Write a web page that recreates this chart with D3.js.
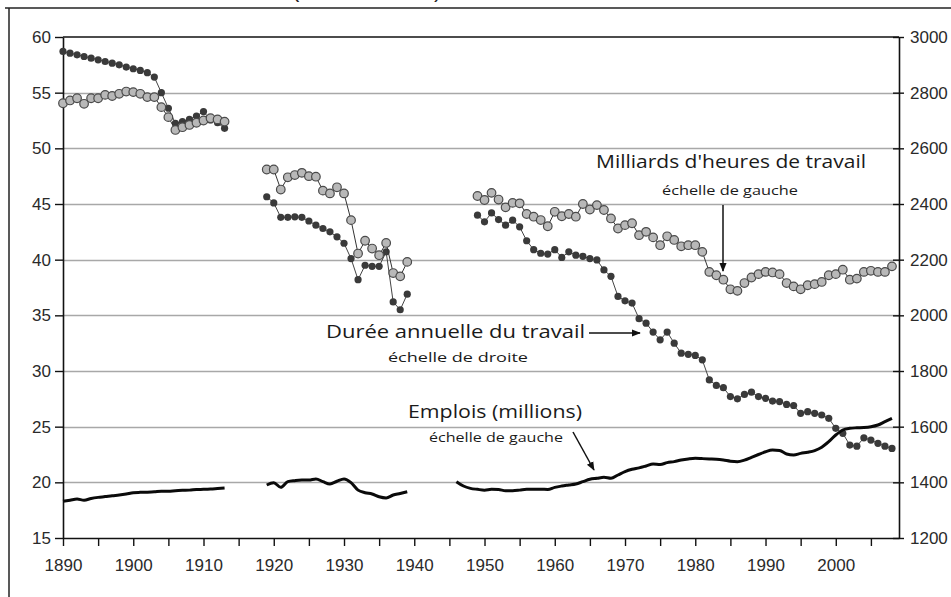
<!DOCTYPE html>
<html>
<head>
<meta charset="utf-8">
<script src="https://cdn.jsdelivr.net/npm/d3@7/dist/d3.min.js"></script>
<style>
  html, body { margin: 0; padding: 0; background: #fff; }
  svg { display: block; }
</style>
</head>
<body>
<svg id="chart" width="951" height="597"></svg>
<script>
// periods (years), values
var yearsA = d3.range(1890, 1914);
var yearsB = d3.range(1919, 1940);
var yearsEmpC = d3.range(1946, 2009);
var yearsC = d3.range(1949, 2009);

// Milliards d'heures de travail (left scale)
var heuresA = [54.05, 54.3, 54.5, 54.0, 54.5, 54.5, 54.8, 54.7, 54.9, 55.1, 55.05, 54.9, 54.6, 54.6,
  53.7, 52.8, 51.65, 51.9, 52.1, 52.3, 52.5, 52.7, 52.6, 52.4];
var heuresB = [48.1, 48.1, 46.3, 47.4, 47.6, 47.8, 47.5, 47.45, 46.2, 45.95, 46.5, 45.95, 43.55,
  40.55, 41.7, 41.0, 40.4, 41.5, 38.8, 38.5, 39.8];
var heuresC = [45.72, 45.36, 46.0, 45.4, 44.7, 45.1, 45.06, 44.1, 43.86, 43.56, 43.0, 44.3, 43.9,
  44.1, 43.86, 45.0, 44.5, 44.9, 44.46, 43.7, 42.8, 43.1, 43.27, 42.2, 42.5, 42.0, 41.3, 42.1,
  41.77, 41.2, 41.3, 41.3, 40.7, 38.9, 38.6, 38.2, 37.34, 37.2, 37.9, 38.4, 38.7, 38.9, 38.85,
  38.7, 37.9, 37.6, 37.34, 37.7, 37.8, 38.0, 38.6, 38.7, 39.1, 38.2, 38.3, 38.9, 39.0, 38.9,
  38.9, 39.4];

// Duree annuelle du travail, heures (right scale)
var dureeA = [2948, 2942, 2936, 2930, 2924, 2918, 2912, 2906, 2900, 2892, 2886, 2880, 2872, 2856,
  2800, 2744, 2690, 2696, 2704, 2716, 2732, 2702, 2692, 2672];
var dureeB = [2426, 2404, 2352, 2352, 2354, 2352, 2339, 2324, 2312, 2300, 2282, 2259, 2204, 2128,
  2180, 2176, 2176, 2228, 2048, 2020, 2076];
var dureeC = [2360, 2336, 2368, 2344, 2324, 2342, 2318, 2268, 2236, 2223, 2220, 2236, 2208, 2228,
  2216, 2212, 2204, 2199, 2163, 2140, 2068, 2052, 2044, 1988, 1972, 1940, 1912, 1940, 1900, 1864,
  1860, 1856, 1840, 1768, 1748, 1740, 1708, 1700, 1716, 1724, 1708, 1702, 1692, 1690, 1680, 1676,
  1648, 1654, 1648, 1642, 1630, 1594, 1576, 1534, 1530, 1560, 1552, 1540, 1530, 1522];

// Emplois, millions (left scale)
var emploiA = [18.3, 18.4, 18.5, 18.4, 18.55, 18.65, 18.72, 18.8, 18.86, 18.95, 19.07, 19.1, 19.12,
  19.15, 19.2, 19.2, 19.25, 19.28, 19.3, 19.35, 19.37, 19.4, 19.45, 19.5];
var emploiB = [19.76, 19.97, 19.55, 20.06, 20.15, 20.2, 20.2, 20.3, 20.06, 19.85, 20.1, 20.3, 19.97,
  19.3, 19.07, 18.95, 18.7, 18.6, 18.86, 19.0, 19.16];
var emploiC = [20.06, 19.67, 19.46, 19.37, 19.3, 19.37, 19.35, 19.25, 19.25, 19.3, 19.37, 19.37,
  19.38, 19.36, 19.55, 19.67, 19.76, 19.85, 20.06, 20.27, 20.36, 20.45, 20.36, 20.66, 20.96, 21.17,
  21.3, 21.47, 21.65, 21.6, 21.77, 21.86, 22.0, 22.1, 22.16, 22.13, 22.1, 22.07, 22.0, 21.9, 21.86,
  22.0, 22.25, 22.5, 22.75, 22.9, 22.85, 22.55, 22.46, 22.6, 22.7, 22.85, 23.15, 23.65, 24.25,
  24.7, 24.85, 24.9, 24.93, 25.0, 25.15, 25.45, 25.75];

var leftTicks = [15, 20, 25, 30, 35, 40, 45, 50, 55, 60];
var rightTicks = [1200, 1400, 1600, 1800, 2000, 2200, 2400, 2600, 2800, 3000];
var xTicks = d3.range(1890, 2006, 5);

//------------------------------------------------------------
var svg = d3.select('#chart');
var plot = { left: 63, right: 899, top: 37, bottom: 538 };

var x = d3.scaleLinear().domain([1890, 2009]).range([plot.left, plot.right]);
var yL = d3.scaleLinear().domain([15, 60]).range([plot.bottom, plot.top]);
var yR = d3.scaleLinear().domain([1200, 3000]).range([plot.bottom, plot.top]);

function zip(years, vals) {
  return years.map(function(y, i) { return { year: y, v: vals[i] }; });
}

// outer frame
svg.append('line').attr('x1', 5).attr('x2', 951).attr('y1', 8).attr('y2', 8)
  .attr('stroke', '#222').attr('stroke-width', 1.5);
svg.append('line').attr('x1', 9).attr('x2', 9).attr('y1', 8).attr('y2', 597)
  .attr('stroke', '#222').attr('stroke-width', 1.5);

// cut-off title remains (only their lowest part shows above the frame)
svg.append('text').attr('x', 292).attr('y', -3.5).attr('font-family', 'Liberation Sans')
  .attr('font-size', 22).attr('fill', '#222').text('(');
svg.append('text').attr('x', 434).attr('y', -3.5).attr('font-family', 'Liberation Sans')
  .attr('font-size', 22).attr('fill', '#222').text(')');

// gridlines
svg.append('g').selectAll('line')
  .data(leftTicks.filter(function(d) { return d > 15 && d < 60; }))
  .enter().append('line')
  .attr('x1', plot.left).attr('x2', plot.right)
  .attr('y1', function(d) { return Math.round(yL(d)) + 0.5; })
  .attr('y2', function(d) { return Math.round(yL(d)) + 0.5; })
  .attr('stroke', '#a8a8a8').attr('stroke-width', 1.3);

// top border
svg.append('line').attr('x1', plot.left).attr('x2', plot.right)
  .attr('y1', yL(60)).attr('y2', yL(60))
  .attr('stroke', '#111').attr('stroke-width', 1.6);

// axes
var axisFont = 'Liberation Sans, Arial, sans-serif';

var gLeft = svg.append('g').attr('transform', 'translate(' + plot.left + ',0)')
  .call(d3.axisLeft(yL).tickValues(leftTicks).tickSize(8).tickSizeOuter(0).tickPadding(4));
var gRight = svg.append('g').attr('transform', 'translate(' + plot.right + ',0)')
  .call(d3.axisRight(yR).tickValues(rightTicks).tickSize(5).tickSizeOuter(0).tickPadding(6)
    .tickFormat(d3.format('d')));
gRight.selectAll('.tick line').attr('x1', -6);
var gBottom = svg.append('g').attr('transform', 'translate(0,' + plot.bottom + ')')
  .call(d3.axisBottom(x).tickValues(xTicks).tickSize(8).tickSizeOuter(0).tickPadding(13)
    .tickFormat(function(d) { return d % 10 === 0 ? d : ''; }));

[gLeft, gRight, gBottom].forEach(function(g) {
  g.selectAll('.domain').attr('stroke', '#111').attr('stroke-width', 1.6);
  g.selectAll('.tick line').attr('stroke', '#111').attr('stroke-width', 1.4);
  g.selectAll('text').attr('font-family', axisFont).attr('font-size', 17).attr('fill', '#2a2a2a');
});

// series
var lineL = d3.line().x(function(d) { return x(d.year); }).y(function(d) { return yL(d.v); });
var lineR = d3.line().x(function(d) { return x(d.year); }).y(function(d) { return yR(d.v); });
var lineEmp = d3.line().curve(d3.curveMonotoneX)
  .x(function(d) { return x(d.year); }).y(function(d) { return yL(d.v); });

var dureeSegs = [zip(yearsA, dureeA), zip(yearsB, dureeB), zip(yearsC, dureeC)];
var heuresSegs = [zip(yearsA, heuresA), zip(yearsB, heuresB), zip(yearsC, heuresC)];
var emploiSegs = [zip(yearsA, emploiA), zip(yearsB, emploiB), zip(yearsEmpC, emploiC)];

// duree annuelle: dark dots (right scale)
dureeSegs.forEach(function(seg) {
  svg.append('path').datum(seg).attr('d', lineR)
    .attr('fill', 'none').attr('stroke', '#444').attr('stroke-width', 1);
  svg.append('g').selectAll('circle').data(seg).enter().append('circle')
    .attr('cx', function(d) { return x(d.year); })
    .attr('cy', function(d) { return yR(d.v); })
    .attr('r', 3.6).attr('fill', '#3a3a3a');
});

// heures de travail: grey circles (left scale)
heuresSegs.forEach(function(seg) {
  svg.append('path').datum(seg).attr('d', lineL)
    .attr('fill', 'none').attr('stroke', '#333').attr('stroke-width', 1);
  svg.append('g').selectAll('circle').data(seg).enter().append('circle')
    .attr('cx', function(d) { return x(d.year); })
    .attr('cy', function(d) { return yL(d.v); })
    .attr('r', 4.3).attr('fill', '#b8b8b8').attr('stroke', '#4a4a4a').attr('stroke-width', 1.2);
});

// emplois: thick black line (left scale)
emploiSegs.forEach(function(seg) {
  svg.append('path').datum(seg).attr('d', lineEmp)
    .attr('fill', 'none').attr('stroke', '#0a0a0a').attr('stroke-width', 3)
    .attr('stroke-linejoin', 'round');
});

// annotations
svg.append('defs').append('marker')
  .attr('id', 'arr').attr('viewBox', '0 0 10 10').attr('refX', 9).attr('refY', 5)
  .attr('markerWidth', 6).attr('markerHeight', 6).attr('orient', 'auto')
  .append('path').attr('d', 'M0,1 L10,5 L0,9 Z').attr('fill', '#111');

var noteFont = '"Open Sans", "DejaVu Sans", sans-serif';
function note(tx, ty, w, size, str) {
  svg.append('text').attr('x', tx).attr('y', ty)
    .attr('font-family', noteFont).attr('font-size', size).attr('fill', '#1a1a1a')
    .attr('textLength', w).attr('lengthAdjust', 'spacingAndGlyphs').text(str);
}
function arrow(x1, y1, x2, y2) {
  svg.append('line').attr('x1', x1).attr('y1', y1).attr('x2', x2).attr('y2', y2)
    .attr('stroke', '#111').attr('stroke-width', 1.5).attr('marker-end', 'url(#arr)');
}

note(596, 168, 270, 19, "Milliards d'heures de travail");
note(662, 195, 136, 13, '\u00e9chelle de gauche');
arrow(723, 205, 723, 271);

note(326, 338, 259, 19, 'Dur\u00e9e annuelle du travail');
note(388, 362, 140, 13, '\u00e9chelle de droite');
arrow(589, 333, 640, 333);

note(408, 418, 174, 19, 'Emplois (millions)');
note(429, 442, 134, 13, '\u00e9chelle de gauche');
arrow(573, 432, 594, 470);
</script>
</body>
</html>
